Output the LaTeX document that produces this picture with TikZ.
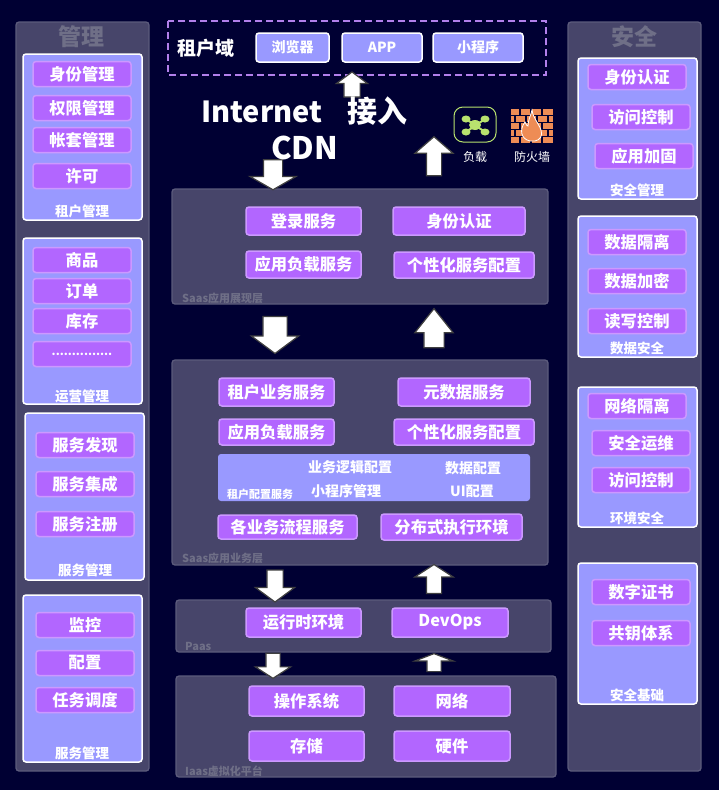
\documentclass[tikz,border=0pt]{standalone}
\usepackage{fontspec}
\setmainfont{Noto Sans CJK SC}
\usepackage{xcolor}
\usetikzlibrary{shapes.arrows}
\definecolor{pagebg}{RGB}{0,0,51}
\definecolor{panelfill}{RGB}{71,69,106}
\definecolor{paneledge}{RGB}{92,91,124}
\definecolor{paneltext}{RGB}{111,111,135}
\definecolor{subfill}{RGB}{153,153,255}
\definecolor{svcfill}{RGB}{178,102,255}
\definecolor{svcedge}{RGB}{204,153,255}
\definecolor{dashedge}{RGB}{178,128,235}
\definecolor{lbgreen}{RGB}{184,226,110}
\definecolor{fwbrick}{RGB}{238,140,85}
\tikzset{
  panel/.style={draw=paneledge,fill=panelfill,line width=1.3pt,rounded corners=3pt},
  subpanel/.style={draw=white,fill=subfill,line width=1.5pt,rounded corners=3pt},
  svcbox/.style n args={2}{draw=svcedge,fill=svcfill,line width=1.5pt,rounded corners=3pt,
    minimum width=#1pt,minimum height=#2pt,inner sep=0pt,text=white,font=\fontsize{16.3}{16.3}\selectfont\bfseries},
  sidebox/.style={svcbox={98}{25}},
  clientbox/.style n args={1}{draw=white,fill=subfill,line width=1.5pt,rounded corners=3pt,
    minimum width=#1pt,minimum height=29pt,inner sep=0pt,text=white,font=\fontsize{14}{14}\selectfont\bfseries},
  sublabel/.style={text=white,inner sep=0pt,font=\fontsize{13.5}{13.5}\selectfont\bfseries},
  cfglabel/.style={text=white,inner sep=0pt,font=\fontsize{14}{14}\selectfont\bfseries},
  layerlabel/.style={anchor=west,text=paneltext,inner sep=0pt,font=\fontsize{11}{11}\selectfont\bfseries},
  sidetitle/.style={text=paneltext,inner sep=0pt,font=\fontsize{23}{23}\selectfont\bfseries},
  iconlabel/.style={text=white,inner sep=0pt,font=\fontsize{12}{12}\selectfont},
  blockarrow/.style n args={4}{single arrow,draw=black!75!white,fill=white,line width=1.2pt,
    inner xsep=0pt,inner ysep=#3pt/2,outer sep=0pt,
    minimum height=#1pt,minimum width=#2pt,single arrow head extend={(#2pt-#3pt)/2},
    single arrow tip angle=#4,single arrow head indent=0pt},
}
\begin{document}
\begin{tikzpicture}[x=1pt,y=-1pt]
  \useasboundingbox[fill=pagebg] (0,0) rectangle (719,790);

  % side columns
  \draw[panel] (16,22) rectangle (149,771);
  \draw[panel] (568,22) rectangle (701,771);
  \node[sidetitle] (mgrtitle) at (81,37) {管理};
  \node[sidetitle] (sectitle) at (634,37) {安全};

  \draw[subpanel] (23,54) rectangle (142,220);
  \draw[subpanel] (23,238) rectangle (142,404);
  \draw[subpanel] (25,413) rectangle (144,580);
  \draw[subpanel] (23,595) rectangle (142,762);
  \draw[subpanel] (578,58) rectangle (697,199);
  \draw[subpanel] (578,216) rectangle (697,357);
  \draw[subpanel] (578,387) rectangle (697,527);
  \draw[subpanel] (578,563) rectangle (697,704);

  \foreach \id/\x/\y/\lab in {
    identity/82/74/身份管理, rights/82/108/权限管理, books/82/140/帐套管理, license/82/176/许可,
    goods/82/260/商品, orders/82/291/订单, stock/82/321/库存,
    discover/85/445/服务发现, integrate/85/484/服务集成, register/85/524/服务注册,
    monitor/85/625/监控, config/85/663/配置, sched/85/700/任务调度,
    auth/637/77/身份认证, access/641/117/访问控制, harden/644/156/应用加固,
    isolate/637/242/数据隔离, encrypt/637/281/数据加密, rwctl/637/321/读写控制,
    netiso/637/406/网络隔离, secops/641/443/安全运维, envacc/641/480/访问控制,
    cert/641/592/数字证书, pubkey/641/633/共钥体系
  } {
    \node[sidebox] (\id) at (\x,\y) {\lab};
  }
  \node[sidebox] (more) at (82,354) {\fontsize{11.5}{11.5}\selectfont\raisebox{-2pt}{...............}};

  \foreach \id/\x/\y/\lab in {
    tenantmgr/82/211/租户管理, opsmgr/82/396/运营管理, svcmgr/85/570/服务管理, taskmgr/82/753/服务管理,
    secmgr/637/190/安全管理, datasec/637/348/数据安全, envsec/637/518/环境安全, secbase/637/695/安全基础
  } {
    \node[sublabel] (\id) at (\x,\y) {\lab};
  }

  % tenant domain
  \draw[dashedge,line width=1.5pt,dash pattern=on 7pt off 4pt] (168,21) rectangle (546,75);
  \node[text=white,inner sep=0pt,font=\fontsize{19}{19}\selectfont\bfseries] (tenant) at (206,48) {租户域};
  \node[clientbox={73}] (browser) at (292.5,47.5) {浏览器};
  \node[clientbox={80}] (app) at (382,47.5) {APP};
  \node[clientbox={90}] (miniapp) at (478,47.5) {小程序};

  % layers
  \draw[panel] (172,189) rectangle (548,304);
  \draw[panel] (172,360) rectangle (548,565);
  \draw[panel] (176,600) rectangle (551,652);
  \draw[panel] (176,676) rectangle (556,777);
  \node[layerlabel] (showlayer) at (182,298) {Saas应用展现层};
  \node[layerlabel] (bizlayer) at (182,558) {Saas应用业务层};
  \node[layerlabel] (paaslayer) at (185,646) {Paas};
  \node[layerlabel] (iaaslayer) at (185,771) {Iaas虚拟化平台};

  % arrows between the layers
  \node[blockarrow={25}{30}{15}{107},rotate=90] (toclient) at (352,87.5) {};
  \node[blockarrow={30}{45}{18}{120},rotate=-90] (tosaas) at (273,172) {};
  \node[blockarrow={39}{37}{14}{98},rotate=90] (fromsaas) at (434,159.5) {};
  \node[blockarrow={37}{46}{23}{107},rotate=-90] (showdown) at (275,330.5) {};
  \node[blockarrow={39}{37}{19}{77},rotate=90] (showup) at (434,334.5) {};
  \node[blockarrow={32}{38}{15}{107},rotate=-90] (bizdown) at (275,583) {};
  \node[blockarrow={29}{37}{14}{114},rotate=90] (bizup) at (434,581.5) {};
  \node[blockarrow={25}{34}{13}{114},rotate=-90] (paasdown) at (273,663.5) {};
  \node[blockarrow={18}{37}{13}{138},rotate=90] (paasup) at (434,664) {};

  \node[text=white,inner sep=0pt,align=center,font=\fontsize{30}{37}\selectfont\bfseries] (entry) at (304.5,128)
    {{\fontsize{29}{37}\selectfont Internet}\hspace{25pt}接入\\{\fontsize{31}{37}\selectfont CDN}};

  % icons
  \draw[lbgreen,line width=1pt,rounded corners=9pt] (454,107) rectangle (496,142);
  \draw[lbgreen,line width=2pt] (466,119) -- (485,132) (485,119) -- (466,132);
  \foreach \x/\y in {466/119,485/119,466/132,485/132} {
    \fill[lbgreen] (\x,\y) ellipse (4.5 and 3.5);
  }
  \fill[lbgreen] (475,125) ellipse (6 and 5);
  \node[iconlabel] (lblabel) at (475,157) {负载};

  \fill[fwbrick] (511,109) rectangle (553,143);
  \foreach \y in {115.5,122.5,129.5,136.5} {
    \draw[pagebg,line width=1.2pt] (511,\y) -- (553,\y);
  }
  \foreach \x in {520,531,542} {
    \draw[pagebg,line width=1.2pt] (\x,109) -- (\x,115.5) (\x,122.5) -- (\x,129.5) (\x,136.5) -- (\x,143);
  }
  \foreach \x in {515,526,537,548} {
    \draw[pagebg,line width=1.2pt] (\x,115.5) -- (\x,122.5) (\x,129.5) -- (\x,136.5);
  }
  \draw[white,fill=fwbrick,line width=0.8pt] (530,141) .. controls (521,139) and (519,130) .. (525,122)
    .. controls (526,125) and (527,126) .. (528,126) .. controls (528,120) and (531,115) .. (532,110)
    .. controls (533,118) and (538,122) .. (541,130) .. controls (543,136) and (540,140) .. (535,141) -- cycle;
  \node[iconlabel] (fwlabel) at (532,157) {防火墙};

  % presentation layer
  \node[svcbox={115}{28}] (login) at (303.5,221) {登录服务};
  \node[svcbox={132}{28}] (showauth) at (459,221) {身份认证};
  \node[svcbox={115}{27}] (showlb) at (303.5,264.5) {应用负载服务};
  \node[svcbox={140}{26}] (showcfg) at (464,265) {个性化服务配置};

  % business layer
  \node[svcbox={115}{28}] (bizsvc) at (276.5,392) {租户业务服务};
  \node[svcbox={132}{28}] (metasvc) at (464,392) {元数据服务};
  \node[svcbox={115}{26}] (bizlb) at (276.5,432) {应用负载服务};
  \node[svcbox={140}{26}] (bizcfg) at (464,432) {个性化服务配置};
  \fill[subfill,rounded corners=3pt] (218,454) rectangle (530,501);
  \foreach \id/\x/\y/\lab in {
    logiccfg/350/467/业务逻辑配置, datacfg/473/468/数据配置,
    minicfg/346/491/小程序管理, uicfg/472/491/UI配置
  } {
    \node[cfglabel] (\id) at (\x,\y) {\lab};
  }
  \node[text=white,inner sep=0pt,font=\fontsize{11}{11}\selectfont\bfseries] (tenantcfg) at (260,494) {租户配置服务};
  \node[svcbox={139}{24}] (flowsvc) at (287.5,527) {各业务流程服务};
  \node[svcbox={141}{26}] (distenv) at (451.5,527) {分布式执行环境};

  % platform layers
  \node[svcbox={115}{29}] (runtime) at (303.5,622.5) {运行时环境};
  \node[svcbox={116}{29}] (devops) at (450,622.5) {DevOps};
  \node[svcbox={115}{30}] (os) at (306.5,701) {操作系统};
  \node[svcbox={116}{30}] (network) at (452,701) {网络};
  \node[svcbox={115}{30}] (storage) at (306.5,746) {存储};
  \node[svcbox={116}{30}] (hardware) at (452,746) {硬件};
\end{tikzpicture}
\end{document}
